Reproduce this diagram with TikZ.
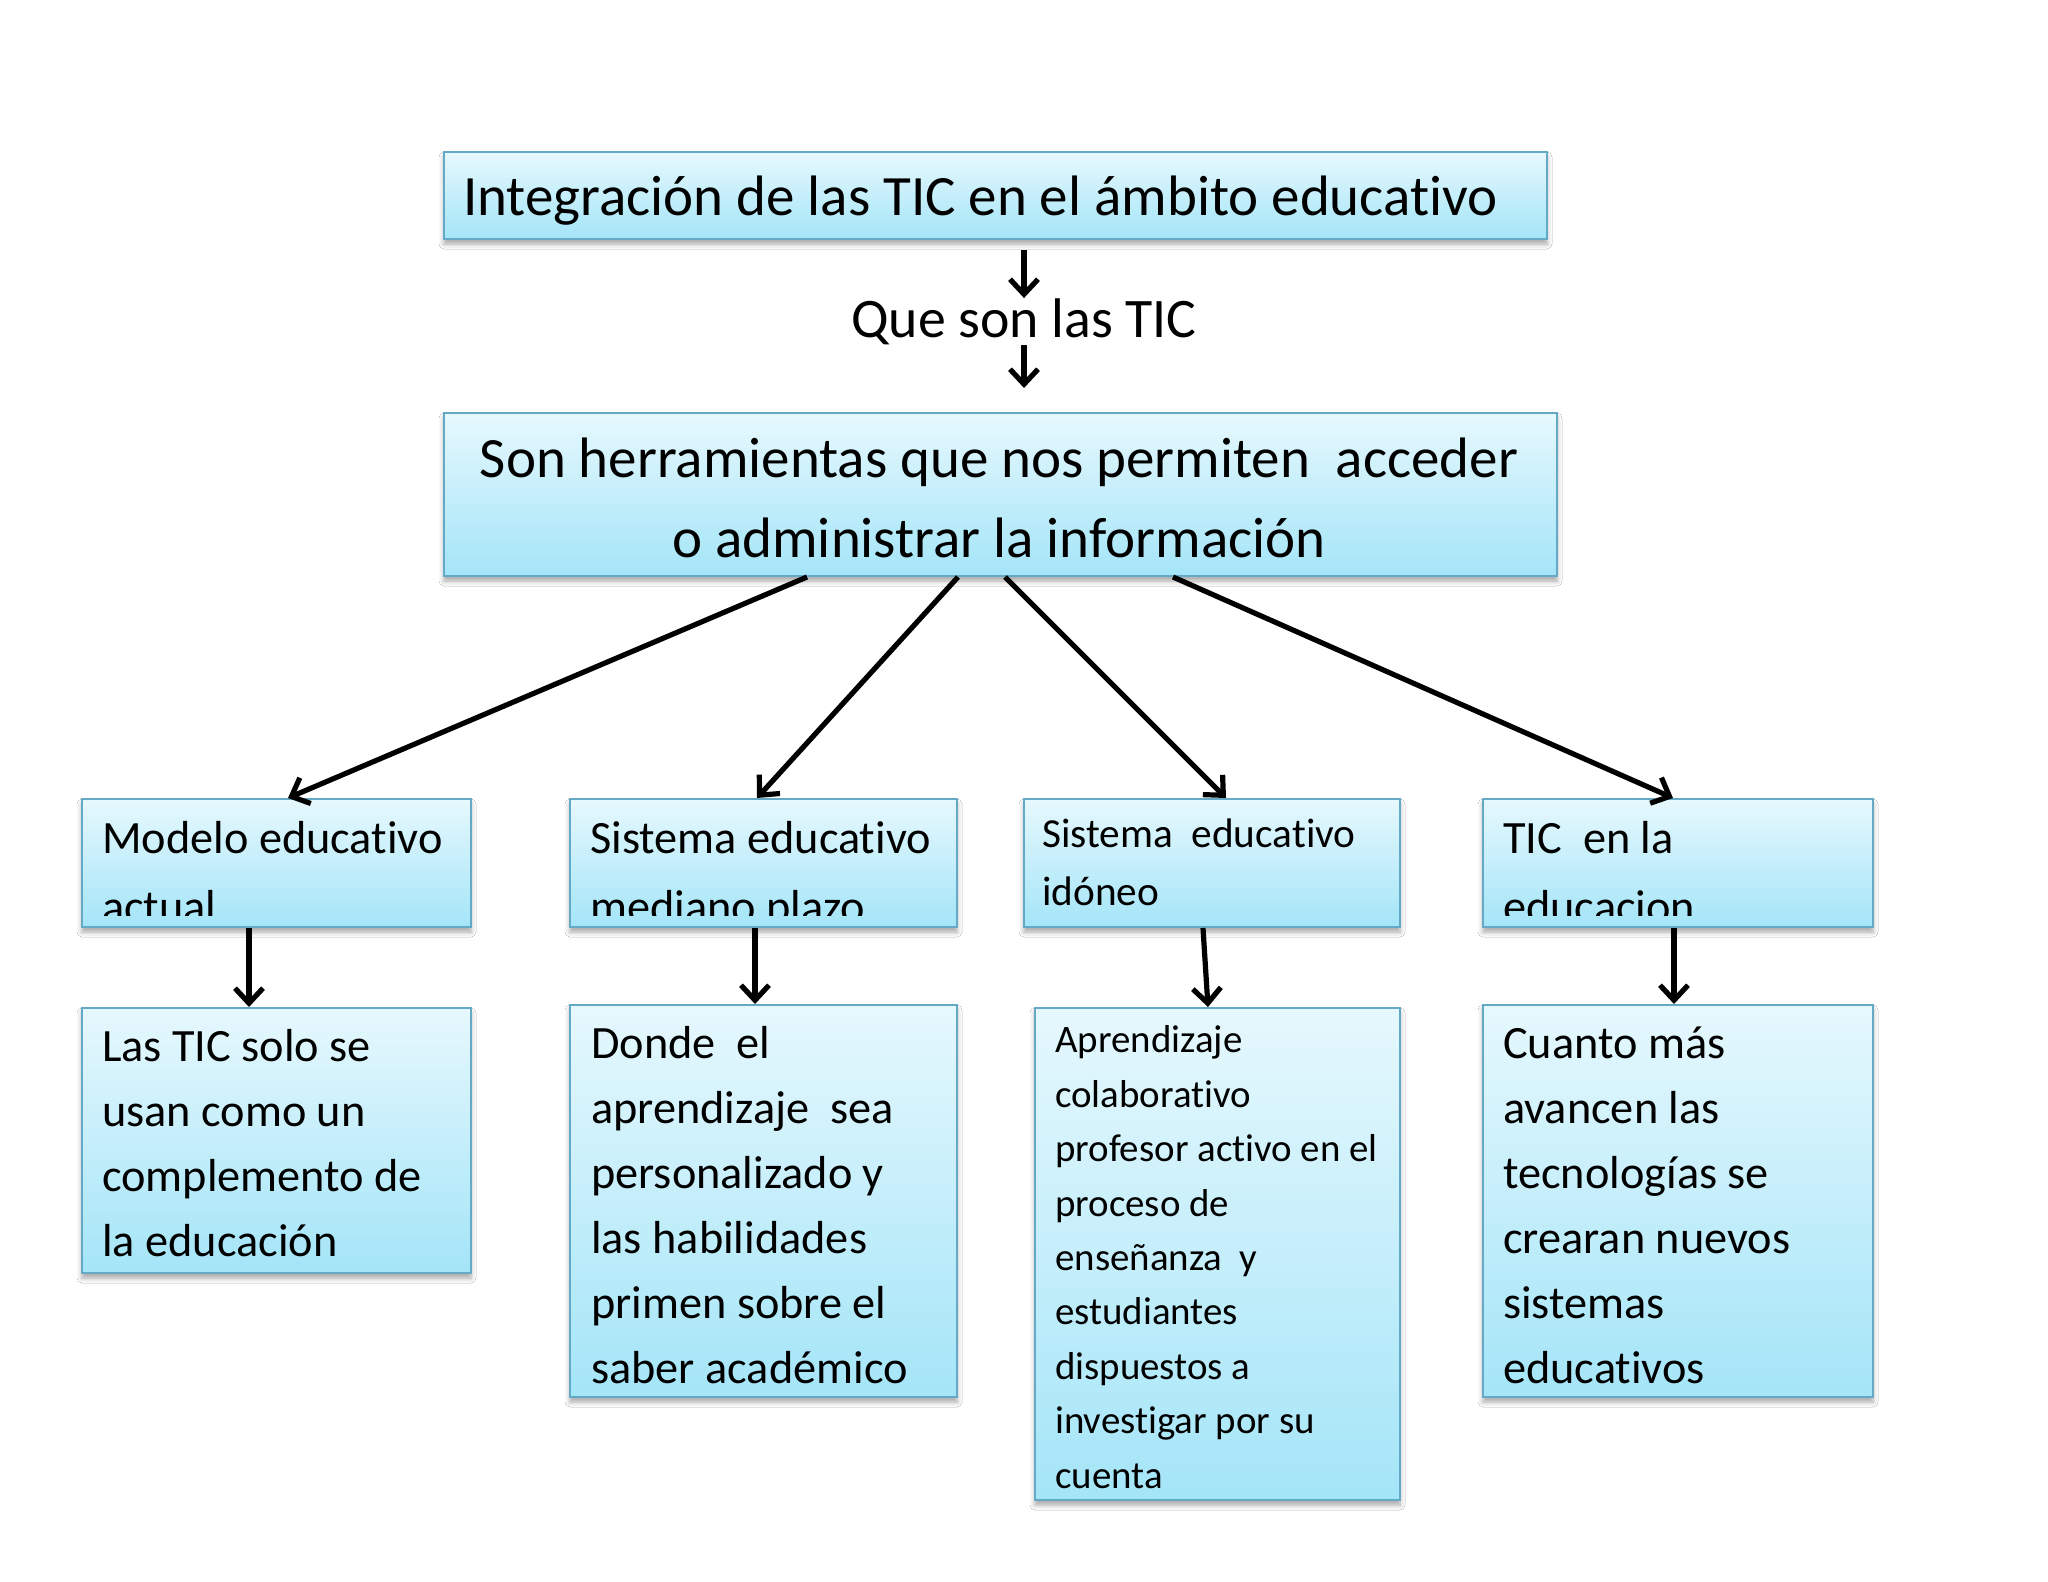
\documentclass[tikz,border=0pt]{standalone}
\usepackage{fontspec}
\setmainfont{Carlito}[Ligatures=NoCommon]
\usetikzlibrary{arrows.meta,shadows.blur}
\definecolor{boxtop}{RGB}{230,248,253}
\definecolor{boxbot}{RGB}{164,229,248}
\definecolor{boxline}{RGB}{100,170,198}
\tikzset{
  box/.style={draw=boxline, line width=2pt, top color=boxtop, bottom color=boxbot,
    anchor=north west, inner sep=0pt,
    blur shadow={shadow xshift=0pt, shadow yshift=-5pt, shadow blur radius=5pt, shadow opacity=35}},
  txt/.style={inner sep=0pt, anchor=base west, align=left},
  arr/.style={-{Straight Barb[length=15pt,width=28pt]}, line width=5.2pt, black},
  big/.style={font=\fontsize{57}{80}\selectfont},
  mid46/.style={font=\fontsize{46.3}{69}\selectfont},
  low46/.style={font=\fontsize{46.3}{65}\selectfont},
}
\begin{document}
\begin{tikzpicture}[x=1pt,y=-1pt]
\useasboundingbox[fill=white] (0,0) rectangle (2048,1582);
% boxes
\node[box, minimum width=1103pt, minimum height=87pt] (top) at (443,151) {};
\node[box, minimum width=1113pt, minimum height=163pt] (mid) at (443,412) {};
\node[box, minimum width=389pt, minimum height=128pt] (r1a) at (81,798) {};
\node[box, minimum width=387pt, minimum height=128pt] (r1b) at (569,798) {};
\node[box, minimum width=376pt, minimum height=128pt] (r1c) at (1023,798) {};
\node[box, minimum width=390pt, minimum height=128pt] (r1d) at (1482,798) {};
\node[box, minimum width=389pt, minimum height=265pt] (r2a) at (81,1007) {};
\node[box, minimum width=387pt, minimum height=392pt] (r2b) at (569,1004) {};
\node[box, minimum width=365pt, minimum height=492pt] (r2c) at (1034,1007) {};
\node[box, minimum width=390pt, minimum height=392pt] (r2d) at (1482,1004) {};
% texts (base anchor = baseline of the last line)
\node[txt, big] (ttop) at (463,215) {Integración de las TIC en el ámbito educativo};
\node[inner sep=0pt, anchor=base, font=\fontsize{55.8}{66}\selectfont] (que) at (1024,337) {Que son las TIC};
\node[inner sep=0pt, anchor=base, align=center, big] (tmid) at (999,557)
  {Son herramientas que nos permiten\ \ acceder\\o administrar la información};
\begin{scope}
  \clip (81,798) rectangle (470,915);
  \node[txt, mid46] (t1a) at (102,922) {Modelo educativo\\actual};
\end{scope}
\begin{scope}
  \clip (569,798) rectangle (956,915);
  \node[txt, mid46] (t1b) at (590,922) {Sistema educativo\\mediano plazo};
\end{scope}
\node[txt, font=\fontsize{41.3}{58}\selectfont] (t1c) at (1042,905) {Sistema\ \ educativo\\idóneo};
\begin{scope}
  \clip (1482,798) rectangle (1872,915);
  \node[txt, mid46] (t1d) at (1503,922) {TIC\ \ en la\\educacion};
\end{scope}
\node[txt, low46] (t2a) at (102,1256) {Las TIC solo se\\usan como un\\complemento de\\la educación};
\node[txt, low46] (t2b) at (591,1383) {Donde\ \ el\\aprendizaje\ \ sea\\personalizado y\\las habilidades\\primen sobre el\\saber académico};
\node[txt, font=\fontsize{38.9}{54.4}\selectfont] (t2c) at (1055,1488)
  {Aprendizaje\\colaborativo\\profesor activo en el\\proceso de\\enseñanza\ \ y\\estudiantes\\dispuestos a\\investigar por su\\cuenta};
\node[txt, low46] (t2d) at (1503,1383) {Cuanto más\\avancen las\\tecnologías se\\crearan nuevos\\sistemas\\educativos};
% connectors
\draw[arr, shorten <=10pt] (top.south -| que.base) -- (que.north);
\draw[arr, shorten >=24pt] ([yshift=-8pt]que.base) -- (mid.north -| que.base);
\draw[arr] ([xshift=-193.5pt]mid.south) -- ([xshift=11.5pt]r1a.north);
\draw[arr] ([xshift=-42.5pt]mid.south) -- ([xshift=-6.5pt]r1b.north);
\draw[arr] ([xshift=4.5pt]mid.south) -- ([xshift=14pt]r1c.north);
\draw[arr] ([xshift=172.5pt]mid.south) -- ([xshift=-5pt]r1d.north);
\draw[arr] ([xshift=-27.5pt]r1a.south) -- ([xshift=-27.5pt]r2a.north);
\draw[arr] ([xshift=-8.5pt]r1b.south) -- ([xshift=-8.5pt]r2b.north);
\draw[arr] ([xshift=-9pt]r1c.south) -- ([xshift=-9.5pt]r2c.north);
\draw[arr] ([xshift=-4pt]r1d.south) -- ([xshift=-4pt]r2d.north);
\end{tikzpicture}
\end{document}
